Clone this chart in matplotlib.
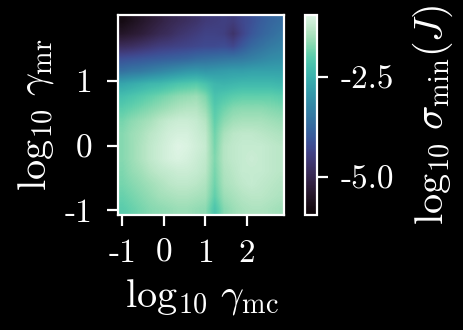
import numpy as np
import matplotlib
matplotlib.use("Agg")
import matplotlib.pyplot as plt
import seaborn as sns

# log10 sigma_min(J)
# rows: gamma_mr from top (~1.9) to bottom (~-1.0), columns: gamma_mc from -1 to 2.8
sigma_rows = [
    [-5.75, -5.60, -5.45, -5.30, -5.15, -5.00, -4.90, -4.80, -4.70, -4.55, -4.50, -4.45, -4.50, -4.30, -4.15, -3.95, -3.80, -3.70],
    [-5.45, -5.35, -5.25, -5.10, -4.95, -4.85, -4.70, -4.60, -4.50, -4.40, -4.40, -4.45, -4.70, -4.35, -4.05, -3.85, -3.70, -3.55],
    [-4.85, -4.80, -4.70, -4.60, -4.50, -4.45, -4.40, -4.35, -4.30, -4.25, -4.25, -4.20, -4.30, -4.00, -3.75, -3.60, -3.45, -3.35],
    [-4.15, -4.10, -4.05, -4.00, -3.95, -3.90, -3.85, -3.80, -3.70, -3.65, -3.60, -3.55, -3.50, -3.45, -3.35, -3.25, -3.15, -3.10],
    [-3.60, -3.50, -3.45, -3.35, -3.25, -3.15, -3.05, -2.95, -2.90, -2.95, -2.90, -2.85, -2.80, -2.80, -2.75, -2.75, -2.75, -2.75],
    [-2.70, -2.60, -2.50, -2.40, -2.35, -2.25, -2.15, -2.10, -2.05, -2.20, -2.40, -2.45, -2.40, -2.35, -2.35, -2.35, -2.35, -2.40],
    [-2.25, -2.15, -2.05, -1.95, -1.85, -1.75, -1.65, -1.60, -1.55, -1.75, -2.20, -2.10, -2.00, -1.95, -1.95, -1.95, -1.95, -2.00],
    [-2.00, -1.90, -1.80, -1.70, -1.60, -1.50, -1.40, -1.35, -1.35, -1.55, -2.05, -1.85, -1.70, -1.65, -1.65, -1.65, -1.70, -1.75],
    [-1.80, -1.65, -1.55, -1.45, -1.30, -1.20, -1.15, -1.15, -1.20, -1.35, -1.95, -1.65, -1.50, -1.45, -1.45, -1.45, -1.50, -1.55],
    [-1.70, -1.55, -1.45, -1.30, -1.20, -1.10, -1.05, -1.05, -1.15, -1.25, -1.85, -1.45, -1.30, -1.25, -1.25, -1.30, -1.35, -1.40],
    [-1.70, -1.55, -1.40, -1.25, -1.15, -1.05, -0.95, -1.00, -1.10, -1.20, -1.80, -1.35, -1.25, -1.20, -1.20, -1.20, -1.25, -1.30],
    [-1.70, -1.55, -1.40, -1.25, -1.15, -1.05, -1.00, -1.05, -1.15, -1.25, -1.75, -1.35, -1.25, -1.20, -1.15, -1.20, -1.25, -1.30],
    [-1.75, -1.60, -1.50, -1.35, -1.25, -1.20, -1.15, -1.15, -1.20, -1.30, -1.80, -1.40, -1.30, -1.20, -1.20, -1.20, -1.25, -1.30],
    [-1.80, -1.70, -1.60, -1.50, -1.40, -1.30, -1.25, -1.25, -1.30, -1.40, -1.85, -1.45, -1.35, -1.25, -1.20, -1.25, -1.30, -1.35],
    [-1.90, -1.80, -1.70, -1.60, -1.50, -1.45, -1.40, -1.40, -1.45, -1.50, -1.95, -1.55, -1.45, -1.35, -1.30, -1.30, -1.35, -1.40],
    [-2.00, -1.90, -1.80, -1.70, -1.65, -1.60, -1.55, -1.55, -1.60, -1.65, -2.15, -1.70, -1.55, -1.45, -1.40, -1.40, -1.45, -1.50],
]
mc_range = [-1.09, 2.91]
mr_range = [-1.07, 2.01]
mc_ticks = [-1, 0, 1, 2]
mr_ticks = [-1, 0, 1]
cbar_ticks = [-2.5, -5.0]
vmin, vmax = -5.95, -0.95

plt.rcParams['mathtext.fontset'] = 'cm'
plt.rcParams['font.family'] = 'serif'
plt.rcParams['font.serif'] = ['cmr10']
plt.rcParams['axes.unicode_minus'] = False

fig = plt.figure(figsize=(4.64, 3.3), dpi=100, facecolor='black')
ax = fig.add_axes([118.5 / 464, 1 - 215 / 330, 166 / 464, 200 / 330])
cax = fig.add_axes([305 / 464, 1 - 215 / 330, 12 / 464, 200 / 330])

cm = sns.color_palette('mako', as_cmap=True)
im = ax.imshow(np.array(sigma_rows), cmap=cm, vmin=vmin, vmax=vmax,
               extent=mc_range + mr_range, aspect='auto', interpolation='bilinear')

ax.set_facecolor('black')
for sp in ax.spines.values():
    sp.set_color('white')
    sp.set_linewidth(1.6)
ax.set_xticks(mc_ticks)
ax.set_xticklabels([str(t) for t in mc_ticks])
ax.set_yticks(mr_ticks)
ax.set_yticklabels([str(t) for t in mr_ticks])
ax.tick_params(colors='white', width=1.6, length=8, labelsize=24)
ax.tick_params(axis='x', pad=9)
ax.tick_params(axis='y', pad=11)
ax.set_xlabel(r'$\log_{10}\,\gamma_{\rm mc}$', color='white', fontsize=29, labelpad=7)
ax.set_ylabel(r'$\log_{10}\,\gamma_{\rm mr}$', color='white', fontsize=29, labelpad=6)

cb = fig.colorbar(im, cax=cax, ticks=cbar_ticks)
cb.ax.set_yticklabels(['%.1f' % t for t in cbar_ticks])
cb.outline.set_edgecolor('white')
cb.outline.set_linewidth(1.6)
cb.ax.tick_params(colors='white', width=1.6, length=8, pad=9, labelsize=24)
cb.set_label(r'$\log_{10}\,\sigma_{\rm min}(J)$', color='white', fontsize=29, labelpad=12)

fig.savefig('out.png', dpi=100, facecolor='black')
